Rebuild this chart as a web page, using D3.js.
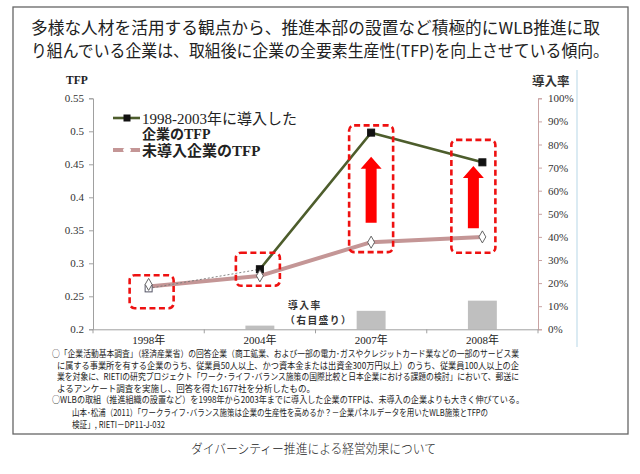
<!DOCTYPE html>
<html>
<head>
<meta charset="utf-8">
<script src="https://cdn.jsdelivr.net/npm/d3@7"></script>
<style>
  html, body { margin: 0; padding: 0; background: #fff; }
  svg { display: block; }
</style>
</head>
<body>
<svg id="chart" width="640" height="474"></svg>
<script>
// ---------------- data ----------------
const categories = ['1998年', '2004年', '2007年', '2008年'];
const adoptedTFP = [0.262, 0.291, 0.498, 0.453];     // 1998-2003年に導入した企業のTFP
const nonAdoptedTFP = [0.265, 0.281, 0.332, 0.340];  // 未導入企業のTFP
const adoptionRate = [0, 0.016, 0.08, 0.124];        // 導入率（右目盛り）
const tfpTicks = [0.2, 0.25, 0.3, 0.35, 0.4, 0.45, 0.5, 0.55];
const tfpTickLabels = ['0.2', '0.25', '0.3', '0.35', '0.4', '0.45', '0.5', '0.55'];
const rateTicks = [0, 0.1, 0.2, 0.3, 0.4, 0.5, 0.6, 0.7, 0.8, 0.9, 1.0];
const rateTickLabels = ['0%', '10%', '20%', '30%', '40%', '50%', '60%', '70%', '80%', '90%', '100%'];
// highlight boxes (TFP units) and arrows (TFP units)
const boxLow = [0.232, 0.266, 0.317, 0.316];
const boxHigh = [0.282, 0.316, 0.509, 0.487];
const arrowCats = ['2007年', '2008年'];
const arrowLow = [0.3615, 0.353];
const arrowHigh = [0.4615, 0.4474];

const titleLines = [
  '多様な人材を活用する観点から、推進本部の設置など積極的にWLB推進に取',
  'り組んでいる企業は、取組後に企業の全要素生産性(TFP)を向上させている傾向。'
];
const noteLines = [
  '○「企業活動基本調査」（経済産業省）の回答企業（商工鉱業、および一部の電力･ガスやクレジットカード業などの一部のサービス業',
  'に属する事業所を有する企業のうち、従業員50人以上、かつ資本金または出資金300万円以上）のうち、従業員100人以上の企',
  '業を対象に、RIETIの研究プロジェクト「ワーク･ライフ･バランス施策の国際比較と日本企業における課題の検討」において、郵送に',
  'よるアンケート調査を実施し、回答を得た1677社を分析したもの。',
  '○WLBの取組（推進組織の設置など）を1998年から2003年までに導入した企業のTFPは、未導入の企業よりも大きく伸びている。'
];
const sourceLines = [
  '山本･松浦（2011）「ワークライフ･バランス施策は企業の生産性を高めるか？－企業パネルデータを用いたWLB施策とTFPの',
  '検証」, RIETI－DP11-J-032'
];
const caption = 'ダイバーシティー推進による経営効果について';

// ---------------- drawing ----------------
const svg = d3.select('#chart');
const SANS = '"Noto Sans CJK JP", "Noto Sans", sans-serif';
const SERIF = '"Liberation Serif", "DejaVu Serif", "Noto Sans CJK JP", serif';

svg.append('rect').attr('width', 640).attr('height', 474).attr('fill', '#fff');

// outer frame
svg.append('rect').attr('x', 13).attr('y', 7).attr('width', 615).attr('height', 427)
  .attr('fill', 'none').attr('stroke', '#666').attr('stroke-width', 1.3);

// title
const titleLayout = [{x: 31, y: 34, w: 569}, {x: 31, y: 57, w: 578}];
svg.selectAll('text.title').data(titleLines).join('text')
  .attr('class', 'title')
  .attr('x', (d, i) => titleLayout[i].x).attr('y', (d, i) => titleLayout[i].y)
  .attr('textLength', (d, i) => titleLayout[i].w).attr('lengthAdjust', 'spacingAndGlyphs')
  .attr('font-family', SANS).attr('font-size', 16.5).attr('fill', '#222')
  .text(d => d);

// chart area right edge (light blue)
svg.append('line').attr('x1', 577).attr('x2', 577).attr('y1', 70).attr('y2', 347)
  .attr('stroke', '#cfe4ef').attr('stroke-width', 1.5);

// scales
const plotL = 93, plotR = 538, plotT = 98.3, plotB = 329.3;
const x = d3.scaleBand().domain(categories).range([plotL, plotR]).padding(0);
const cx = c => x(c) + x.bandwidth() / 2;
const y = d3.scaleLinear().domain([0.2, 0.55]).range([plotB, plotT]);
const yr = d3.scaleLinear().domain([0, 1]).range([plotB, plotT]);

// bars (right axis)
const barW = x.bandwidth() * 0.26;
svg.append('g').selectAll('rect').data(categories).join('rect')
  .attr('x', d => cx(d) - barW / 2)
  .attr('y', (d, i) => yr(adoptionRate[i]))
  .attr('width', barW)
  .attr('height', (d, i) => yr(0) - yr(adoptionRate[i]))
  .attr('fill', '#bfbfbf');

// left axis
const gL = svg.append('g').attr('transform', `translate(${plotL},0)`)
  .call(d3.axisLeft(y).tickValues(tfpTicks).tickSize(4).tickPadding(5)
    .tickFormat((d, i) => tfpTickLabels[i]));
gL.select('.domain').attr('stroke', '#a0a0a0');
gL.selectAll('.tick line').attr('stroke', '#a0a0a0');
gL.selectAll('.tick text').attr('font-family', SERIF).attr('font-size', 11).attr('fill', '#333');

// right axis
const gR = svg.append('g').attr('transform', `translate(${plotR},0)`)
  .call(d3.axisRight(yr).tickValues(rateTicks).tickSize(4).tickPadding(6)
    .tickFormat((d, i) => rateTickLabels[i]));
gR.select('.domain').attr('stroke', '#c9a3a3');
gR.selectAll('.tick line').attr('stroke', '#c9a3a3');
gR.selectAll('.tick text').attr('font-family', SERIF).attr('font-size', 11).attr('fill', '#333');

// bottom axis
const gB = svg.append('g').attr('transform', `translate(0,${plotB})`)
  .call(d3.axisBottom(x).tickSize(0).tickPadding(7));
gB.select('.domain').attr('stroke', '#a0a0a0');
gB.selectAll('.tick text').attr('font-family', SERIF).attr('font-size', 11).attr('fill', '#222');
const bounds = categories.map(c => x(c)).concat([plotR]);
gB.selectAll('line.bt').data(bounds).join('line').attr('class', 'bt')
  .attr('x1', d => d).attr('x2', d => d).attr('y1', 0).attr('y2', 4)
  .attr('stroke', '#a0a0a0');

// axis titles
svg.append('text').attr('x', 66).attr('y', 84).attr('font-family', SERIF)
  .attr('font-weight', 'bold').attr('font-size', 11.5).attr('fill', '#222').text('TFP');
svg.append('text').attr('x', 532).attr('y', 86).attr('font-family', SANS)
  .attr('font-weight', 'bold').attr('font-size', 12.5).attr('fill', '#333').text('導入率');

// non-adopted line (pink)
const line = d3.line().x(d => cx(d.c)).y(d => y(d.v));
const nonPts = categories.map((c, i) => ({c, v: nonAdoptedTFP[i]}));
const adPts = categories.map((c, i) => ({c, v: adoptedTFP[i]}));
svg.append('path').attr('d', line(nonPts)).attr('fill', 'none')
  .attr('stroke', '#c49696').attr('stroke-width', 4).attr('stroke-linejoin', 'round');

// adopted line: dotted first segment, solid afterwards
svg.append('path').attr('d', line(adPts.slice(0, 2))).attr('fill', 'none')
  .attr('stroke', '#777').attr('stroke-width', 0.9).attr('stroke-dasharray', '2,2');
svg.append('path').attr('d', line(adPts.slice(1))).attr('fill', 'none')
  .attr('stroke', '#4d5d2c').attr('stroke-width', 2.6);

// markers
const sq = 7;
svg.append('g').selectAll('rect').data(adPts).join('rect')
  .attr('x', d => cx(d.c) - sq / 2).attr('y', d => y(d.v) - sq / 2)
  .attr('width', sq).attr('height', sq)
  .attr('fill', (d, i) => i === 0 ? '#fff' : '#111')
  .attr('stroke', (d, i) => i === 0 ? '#556' : '#111').attr('stroke-width', 1);
const diamond = d3.symbol().type(d3.symbolDiamond).size(42);
svg.append('g').selectAll('path').data(nonPts).join('path')
  .attr('d', diamond)
  .attr('transform', (d, i) => `translate(${cx(d.c)},${y(d.v) - (i === 0 ? 2 : 0)})`)
  .attr('fill', '#fff').attr('stroke', '#555').attr('stroke-width', 0.9);

// highlight boxes
const boxW = 44;
const boxShift = [3, -2, 0, -9];
svg.append('g').selectAll('rect').data(categories).join('rect')
  .attr('x', (d, i) => cx(d) + boxShift[i] - boxW / 2)
  .attr('y', (d, i) => y(boxHigh[i]))
  .attr('width', boxW)
  .attr('height', (d, i) => y(boxLow[i]) - y(boxHigh[i]))
  .attr('rx', 5)
  .attr('fill', 'none').attr('stroke', '#ee1111').attr('stroke-width', 2.6)
  .attr('stroke-dasharray', '6,3.5');

// arrows
const arrowShift = [0, -9];
svg.append('g').selectAll('path').data(arrowCats).join('path')
  .attr('d', (d, i) => {
    const c = cx(d) + arrowShift[i];
    const t = y(arrowHigh[i]), b = y(arrowLow[i]);
    const hw = 10.5, sw = 5.5, hh = 12;
    return `M${c},${t} L${c + hw},${t + hh} L${c + sw},${t + hh} L${c + sw},${b} L${c - sw},${b} L${c - sw},${t + hh} L${c - hw},${t + hh} Z`;
  })
  .attr('fill', '#ff0000');

// legend
const lg = svg.append('g');
lg.append('line').attr('x1', 113).attr('x2', 140).attr('y1', 118).attr('y2', 118)
  .attr('stroke', '#4d5d2c').attr('stroke-width', 2.6);
lg.append('rect').attr('x', 123.5).attr('y', 114.5).attr('width', 7).attr('height', 7).attr('fill', '#111');
lg.append('text').attr('x', 142).attr('y', 123.5).attr('font-family', SERIF)
  .attr('font-size', 15).attr('fill', '#222').text('1998-2003年に導入した');
lg.append('text').attr('x', 142).attr('y', 139).attr('font-family', SERIF)
  .attr('font-weight', 'bold').attr('font-size', 14).attr('fill', '#222').text('企業のTFP');
lg.append('line').attr('x1', 113).attr('x2', 140).attr('y1', 150).attr('y2', 150)
  .attr('stroke', '#c49696').attr('stroke-width', 4);
lg.append('ellipse').attr('cx', 127).attr('cy', 150).attr('rx', 4).attr('ry', 2.5).attr('fill', '#fff');
lg.append('text').attr('x', 142).attr('y', 155.5).attr('font-family', SERIF)
  .attr('font-weight', 'bold').attr('font-size', 15).attr('fill', '#222').text('未導入企業のTFP');

// bar annotation
svg.append('text').attr('x', 288).attr('y', 309).attr('font-family', SANS)
  .attr('font-weight', 'bold').attr('font-size', 9.8).attr('letter-spacing', 1.4)
  .attr('fill', '#333').text('導入率');
svg.append('text').attr('x', 285).attr('y', 323.5).attr('font-family', SANS)
  .attr('font-weight', 'bold').attr('font-size', 9.8).attr('letter-spacing', 1.4)
  .attr('fill', '#333').text('（右目盛り）');

// notes
const noteLayout = [
  {x: 52, y: 357, w: 467}, {x: 57, y: 368.5, w: 462}, {x: 57, y: 380, w: 462},
  {x: 57, y: 391.5, w: 258}, {x: 52, y: 403, w: 472}
];
svg.selectAll('text.note').data(noteLines).join('text').attr('class', 'note')
  .attr('x', (d, i) => noteLayout[i].x).attr('y', (d, i) => noteLayout[i].y)
  .attr('textLength', (d, i) => noteLayout[i].w).attr('lengthAdjust', 'spacingAndGlyphs')
  .attr('font-family', SANS).attr('font-size', 9).attr('fill', '#222').text(d => d);
const srcLayout = [{x: 72, y: 416, w: 416}, {x: 72, y: 427.5, w: 93}];
svg.selectAll('text.src').data(sourceLines).join('text').attr('class', 'src')
  .attr('x', (d, i) => srcLayout[i].x).attr('y', (d, i) => srcLayout[i].y)
  .attr('textLength', (d, i) => srcLayout[i].w).attr('lengthAdjust', 'spacingAndGlyphs')
  .attr('font-family', SANS).attr('font-size', 9).attr('fill', '#222').text(d => d);

// caption
svg.append('text').attr('x', 191).attr('y', 453).attr('textLength', 245)
  .attr('lengthAdjust', 'spacingAndGlyphs')
  .attr('font-family', SANS).attr('font-weight', 300).attr('font-size', 13).attr('fill', '#222')
  .text(caption);
</script>
</body>
</html>
